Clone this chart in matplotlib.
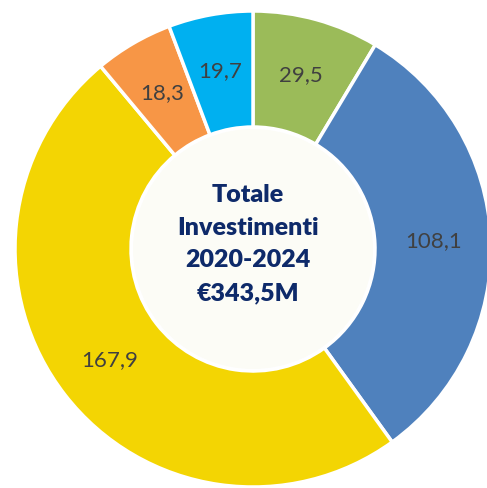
import matplotlib.pyplot as plt
from matplotlib.patches import Circle

# Investimenti 2020-2024 (M€), in senso orario dall'alto
values = [29.5, 108.1, 167.9, 18.3, 19.7]
colors = ['#9BBB59', '#4F81BD', '#F3D503', '#F79646', '#00B0F0']
center_text = 'Totale\nInvestimenti\n2020-2024\n€343,5M'

total = sum(values)

fig = plt.figure(figsize=(4.87, 4.88), dpi=100)
ax = fig.add_axes([0, 0, 1, 1])

R = 238
ax.pie(values, colors=colors, radius=R, startangle=90, counterclock=False,
       autopct=lambda p: f'{p * total / 100:.1f}'.replace('.', ','),
       pctdistance=0.76,
       wedgeprops=dict(width=R - 122, edgecolor='white', linewidth=2.5),
       textprops=dict(fontsize=16, color='#404040', family=['Lato', 'DejaVu Sans']))

ax.add_patch(Circle((0, 0), 120, facecolor='#FCFCF6', edgecolor='none', zorder=0))
ax.text(-5, 5, center_text, ha='center', va='center', fontsize=18, fontweight='heavy',
        color='#0E2A6A', linespacing=1.6, family=['Lato', 'DejaVu Sans'])

ax.set_xlim(-253, 487 - 253)
ax.set_ylim(-(488 - 249), 249)
ax.set_aspect('equal')
ax.axis('off')

fig.savefig('out.png', dpi=100)
